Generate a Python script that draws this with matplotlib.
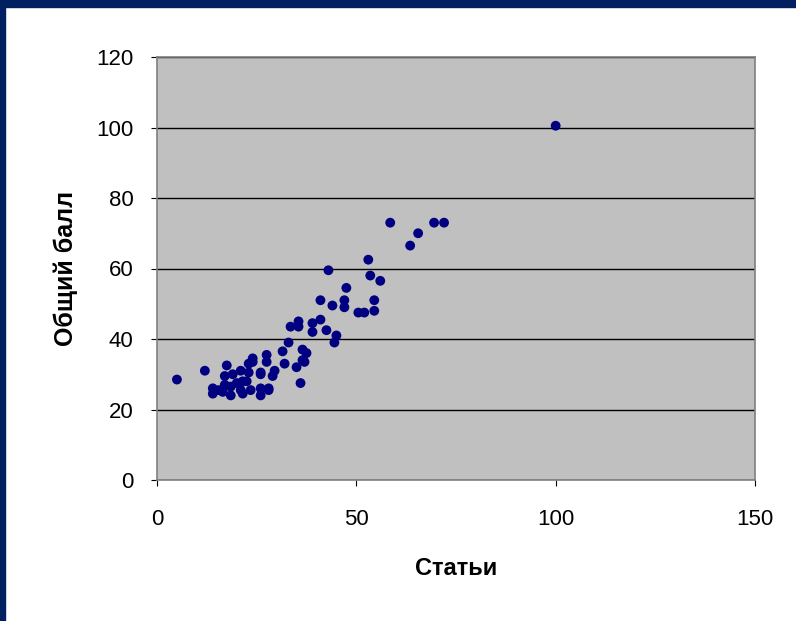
import matplotlib.pyplot as plt
from matplotlib.patches import Rectangle

# Статьи vs. общий балл
stati = [100, 58.5, 69.5, 72, 65.5, 63.5, 53, 43, 53.5, 56,
         47.5, 41, 44, 47, 47, 54.5, 54.5, 50.5, 52, 35.5,
         35.5, 39, 39, 41, 42.5, 45, 44.5, 33.5, 33, 31.5,
         36.5, 37.5, 36.5, 32, 35, 37, 36, 27.5, 27.5, 24,
         23, 29.5, 29, 26, 23, 21, 19, 17, 17.5, 12,
         5, 21.5, 20, 17, 18.5, 14, 14, 15.5, 16.5, 18.5,
         21, 21.5, 23.5, 26, 26, 28, 28, 24, 22.5, 26]
ball = [100.5, 73, 73, 73, 70, 66.5, 62.5, 59.5, 58, 56.5,
        54.5, 51, 49.5, 51, 49, 51, 48, 47.5, 47.5, 45,
        43.5, 44.5, 42, 45.5, 42.5, 41, 39, 43.5, 39, 36.5,
        37, 36, 34, 33, 32, 33.5, 27.5, 35.5, 33.5, 34.5,
        33, 31, 29.5, 30.5, 30.5, 31, 30, 29.5, 32.5, 31,
        28.5, 28, 27.5, 27, 26.5, 26, 24.5, 25.5, 25, 24,
        25.5, 24.5, 25.5, 26, 24, 25.5, 26, 33.5, 28, 30]

x_ticks = [0, 50, 100, 150]
y_ticks = [0, 20, 40, 60, 80, 100, 120]

plt.rcParams['font.family'] = ['Liberation Sans', 'DejaVu Sans']

fig = plt.figure(figsize=(7.96, 6.21), dpi=100)
fig.patch.set_facecolor('white')

# тёмно-синяя рамка слайда (сверху и слева)
navy = '#002060'
fig.patches.append(Rectangle((0, 1 - 7 / 621), 1, 7 / 621, transform=fig.transFigure,
                             color=navy, zorder=0))
fig.patches.append(Rectangle((0, 0), 5 / 796, 1, transform=fig.transFigure,
                             color=navy, zorder=0))

ax = fig.add_axes([157 / 796, 1 - 480 / 621, (755 - 157) / 796, (480 - 57) / 621])
ax.set_facecolor('#C0C0C0')

ax.scatter(stati, ball, s=50, color='#000080', edgecolors='none', zorder=3, clip_on=False)

ax.set_xlim(0, 150)
ax.set_ylim(0, 120)
ax.set_xticks(x_ticks)
ax.set_yticks(y_ticks)
ax.yaxis.grid(True, color='black', linewidth=1)
ax.set_axisbelow(True)

for s in ax.spines.values():
    s.set_color('#808080')
    s.set_linewidth(1.2)

ax.tick_params(axis='both', labelsize=16, direction='out', length=4, color='black')
ax.tick_params(axis='x', pad=17)
ax.tick_params(axis='y', pad=13)

ax.set_xlabel('Статьи', fontsize=17, fontweight='bold', labelpad=19)
ax.set_ylabel('Общий балл', fontsize=18, fontweight='bold', labelpad=13)

fig.savefig('out.png', dpi=100)
